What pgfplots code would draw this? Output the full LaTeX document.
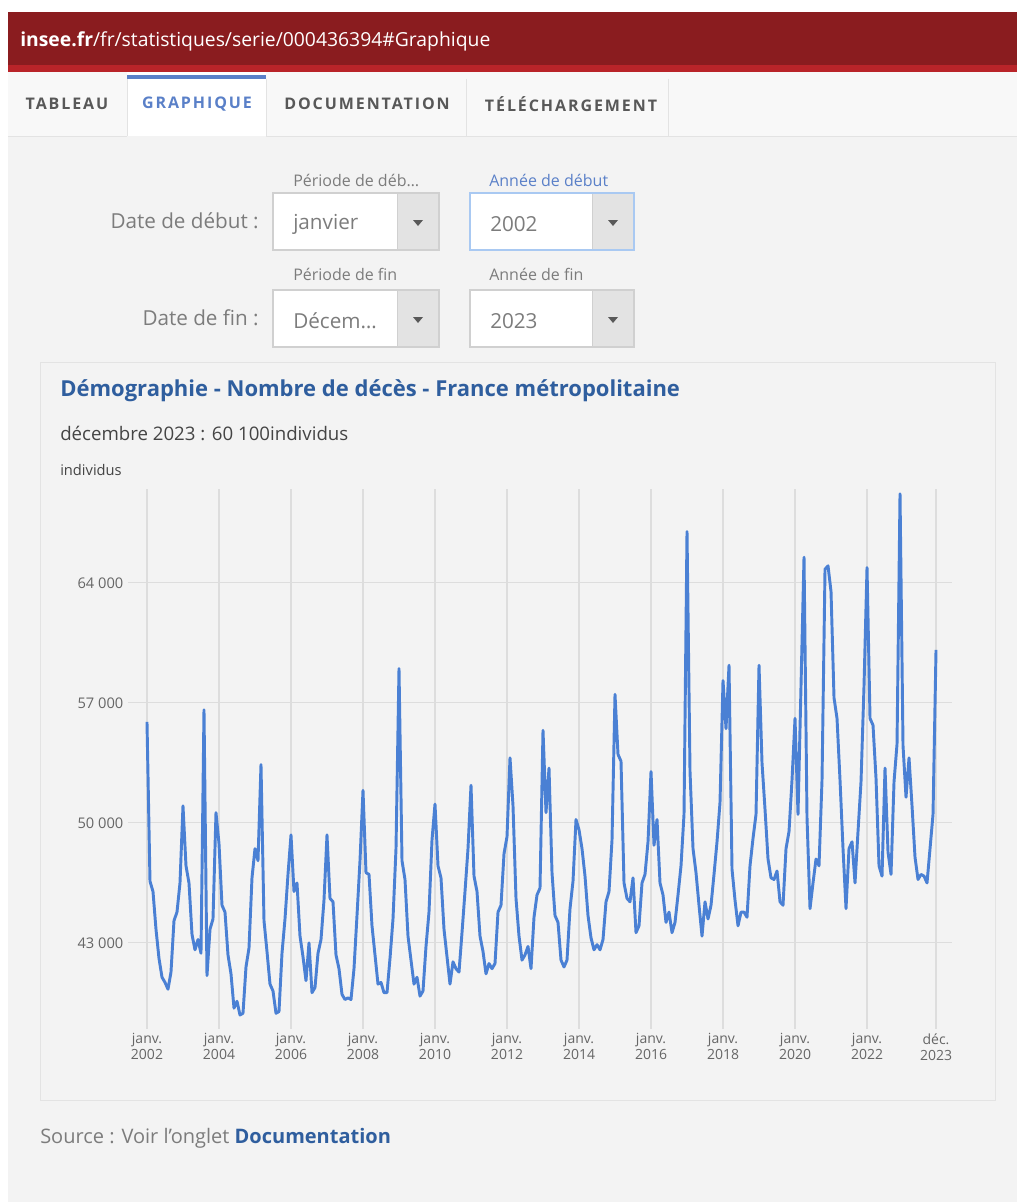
\documentclass[border=0pt]{standalone}
\usepackage{fontspec}
\setmainfont{Open Sans}
\usepackage{pgfplots}
\pgfplotsset{compat=1.18}

\definecolor{pagebg}{HTML}{F3F3F3}
\definecolor{barred}{HTML}{8A1C1F}
\definecolor{barline}{HTML}{B92429}
\definecolor{tabbg}{HTML}{F8F8F8}
\definecolor{tabline}{HTML}{E3E3E3}
\definecolor{tabtext}{HTML}{585858}
\definecolor{tabblue}{HTML}{5A80C8}
\definecolor{formgray}{HTML}{7C7C7C}
\definecolor{boxborder}{HTML}{D0D0D0}
\definecolor{btngray}{HTML}{E3E3E3}
\definecolor{focusblue}{HTML}{A9C9F2}
\definecolor{titleblue}{HTML}{2F5E9E}
\definecolor{textgray}{HTML}{444444}
\definecolor{labelgray}{HTML}{666666}
\definecolor{gridgray}{HTML}{DDDDDD}
\definecolor{serieblue}{HTML}{4A80D4}

% liste deroulante: x, y, largeur, couleur du bord, texte
\newcommand\selectbox[5]{%
  \fill[white] (#1,#2) rectangle ({#1+#3},{#2+57});
  \fill[btngray] ({#1+#3-42},#2) rectangle ({#1+#3},{#2+57});
  \draw[boxborder] ({#1+#3-42},#2) -- ({#1+#3-42},{#2+57});
  \draw[#4, line width=1.2pt] (#1,#2) rectangle ({#1+#3},{#2+57});
  \fill[black!65] ({#1+#3-26},{#2+27}) -- ({#1+#3-16},{#2+27}) -- ({#1+#3-21},{#2+33}) -- cycle;
  \node[anchor=west, inner sep=0pt, formgray, font=\fontsize{15.5}{18}\selectfont] at ({#1+20},{#2+31}) {#5};
}

\begin{document}
\begin{tikzpicture}[x=0.75pt,y=-0.75pt]
\useasboundingbox (0,0) rectangle (1017,1202);
\fill[white] (0,0) rectangle (1017,1202);
\fill[pagebg] (8,72) rectangle (1017,1202);

% barre d'adresse
\fill[barred] (8,12) rectangle (1017,66);
\fill[barline] (8,65) rectangle (1017,72);
\node[anchor=west, white, inner sep=0pt, font=\fontsize{14.5}{16}\selectfont] at (20,41)
  {\textbf{insee.fr}/fr/statistiques/serie/000436394\#Graphique};

% onglets
\fill[tabbg] (8,72) rectangle (1017,136);
\fill[white] (127,72) rectangle (266,136);
\fill[tabblue] (127,75) rectangle (266,79);
\foreach \xx in {127,266,466,668} \draw[tabline] (\xx,79) -- (\xx,136);
\draw[tabline] (8,136) -- (127,136) (266,136) -- (1017,136);
\begin{scope}[every node/.style={inner sep=0pt, font=\fontsize{12}{14}\bfseries\addfontfeatures{LetterSpace=12}\selectfont}]
\node[tabtext] at (67,104) {TABLEAU};
\node[tabblue] at (197,104) {GRAPHIQUE};
\node[tabtext] at (367,104) {DOCUMENTATION};
\node[tabtext] at (571,104) {TÉLÉCHARGEMENT};
\end{scope}

% formulaire
\begin{scope}[every node/.style={inner sep=0pt}]
\node[anchor=east, formgray, font=\fontsize{15.5}{18}\selectfont] at (259,221) {Date de début :};
\node[anchor=east, formgray, font=\fontsize{15.5}{18}\selectfont] at (259,318) {Date de fin :};
\node[anchor=west, formgray, font=\fontsize{12}{14}\selectfont] at (293,180) {Période de déb\ldots};
\node[anchor=west, tabblue, font=\fontsize{12}{14}\selectfont] at (489,180) {Année de début};
\node[anchor=west, formgray, font=\fontsize{12}{14}\selectfont] at (293,274) {Période de fin};
\node[anchor=west, formgray, font=\fontsize{12}{14}\selectfont] at (489,274) {Année de fin};
\end{scope}
\selectbox{273}{193}{166}{boxborder}{janvier}
\selectbox{470}{193}{164}{focusblue}{2002}
\selectbox{273}{290}{166}{boxborder}{Décem\ldots}
\selectbox{470}{290}{164}{boxborder}{2023}

% cadre du graphique
\draw[tabline, fill=pagebg] (40,362) rectangle (995,1100);
\node[anchor=west, inner sep=0pt, titleblue, font=\fontsize{16.5}{19}\bfseries\selectfont] at (60,391)
  {Démographie - Nombre de décès - France métropolitaine};
\node[anchor=west, inner sep=0pt, textgray, font=\fontsize{14}{16}\selectfont] at (60,433)
  {décembre 2023 : 60 100individus};
\node[anchor=west, inner sep=0pt, textgray, font=\fontsize{11}{13}\selectfont] at (60,470)
  {individus};

\begin{scope}[x=1cm,y=1cm]
\begin{axis}[
  at={(96pt,-771.5pt)}, anchor=south west,
  width=618pt, height=405pt, scale only axis,
  xmin=-6.33, xmax=268.33,
  ymin=38000, ymax=69500,
  axis line style={draw=none},
  tick style={draw=none}, major tick length=0pt,
  xmajorgrids, ymajorgrids,
  grid style={gridgray, line width=0.8pt},
  scaled y ticks=false,
  xtick={0,24,48,72,96,120,144,168,192,216,240,263},
  xticklabels={{janv.\\2002},{janv.\\2004},{janv.\\2006},{janv.\\2008},{janv.\\2010},{janv.\\2012},
    {janv.\\2014},{janv.\\2016},{janv.\\2018},{janv.\\2020},{janv.\\2022},{déc.\\2023}},
  xticklabel style={align=center, text=labelgray, font=\fontsize{10.5}{12}\selectfont},
  ytick={43000,50000,57000,64000},
  yticklabels={43 000,50 000,57 000,64 000},
  yticklabel style={text=labelgray, font=\fontsize{11}{13}\selectfont},
  /pgf/number format/assume math mode=true,
]
\addplot[serieblue, line width=2.2pt, line join=round] coordinates {
(0,55900) (1,46600) (2,46000) (3,43800) (4,42100) (5,41000) (6,40700) (7,40300) (8,41300) (9,44300) (10,44800) (11,46500)
(12,51000) (13,47500) (14,46500) (15,43500) (16,42600) (17,43200) (18,42400) (19,56600) (20,41100) (21,43800) (22,44400) (23,50600)
(24,48800) (25,45200) (26,44800) (27,42300) (28,41200) (29,39200) (30,39600) (31,38800) (32,38900) (33,41600) (34,42700) (35,46800)
(36,48500) (37,47800) (38,53400) (39,44300) (40,42500) (41,40600) (42,40200) (43,38900) (44,39000) (45,42400) (46,44400) (47,47000)
(48,49300) (49,46000) (50,46500) (51,43400) (52,42200) (53,40800) (54,43000) (55,40100) (56,40400) (57,42400) (58,43200) (59,45500)
(60,49300) (61,45600) (62,45400) (63,42300) (64,41500) (65,40000) (66,39700) (67,39800) (68,39700) (69,41500) (70,44600) (71,47800)
(72,51900) (73,47100) (74,47000) (75,44000) (76,42300) (77,40600) (78,40700) (79,40100) (80,40100) (81,42100) (82,44400) (83,48500)
(84,59000) (85,47800) (86,46700) (87,43400) (88,42000) (89,40600) (90,41000) (91,39900) (92,40200) (93,42800) (94,44800) (95,49000)
(96,51100) (97,47500) (98,46800) (99,43800) (100,42200) (101,40600) (102,41900) (103,41500) (104,41300) (105,43600) (106,46000) (107,48500)
(108,52200) (109,46900) (110,46000) (111,43400) (112,42500) (113,41200) (114,41800) (115,41500) (116,41800) (117,44800) (118,45200) (119,48200)
(120,49200) (121,53800) (122,51000) (123,45600) (124,43400) (125,42000) (126,42300) (127,42800) (128,41500) (129,44500) (130,45800) (131,46200)
(132,55400) (133,50600) (134,53200) (135,47100) (136,44600) (137,44200) (138,42000) (139,41600) (140,42000) (141,45000) (142,46600) (143,50200)
(144,49600) (145,48500) (146,46900) (147,44600) (148,43300) (149,42600) (150,42900) (151,42600) (152,43200) (153,45400) (154,46000) (155,49000)
(156,57500) (157,54000) (158,53600) (159,46500) (160,45600) (161,45400) (162,46800) (163,43600) (164,44000) (165,46500) (166,47000) (167,48900)
(168,53000) (169,48700) (170,50200) (171,46500) (172,45800) (173,44200) (174,44800) (175,43600) (176,44200) (177,45800) (178,47500) (179,50500)
(180,67000) (181,53000) (182,48500) (183,47100) (184,45200) (185,43400) (186,45400) (187,44400) (188,45200) (189,47000) (190,48900) (191,51200)
(192,58300) (193,55500) (194,59200) (195,47300) (196,45500) (197,44000) (198,44800) (199,44800) (200,44500) (201,47500) (202,49100) (203,50500)
(204,59200) (205,53500) (206,50800) (207,47900) (208,46800) (209,46700) (210,47200) (211,45400) (212,45200) (213,48500) (214,49500) (215,52500)
(216,56100) (217,50500) (218,58000) (219,65500) (220,50300) (221,45000) (222,46500) (223,47900) (224,47500) (225,52500) (226,64800) (227,65000)
(228,63500) (229,57300) (230,56100) (231,52500) (232,48500) (233,45000) (234,48500) (235,48900) (236,46500) (237,49500) (238,52400) (239,58000)
(240,64900) (241,56100) (242,55700) (243,52600) (244,47500) (245,46900) (246,53200) (247,48300) (248,47000) (249,52400) (250,54600) (251,69200)
(252,54500) (253,51500) (254,53800) (255,51000) (256,48000) (257,46700) (258,47000) (259,46900) (260,46500) (261,48500) (262,50500) (263,60100)
};
\end{axis}
\end{scope}

% source
\node[anchor=west, inner sep=0pt, formgray, font=\fontsize{15}{17}\selectfont] at (40,1138)
  {Source : Voir l'onglet \textcolor{titleblue}{\bfseries Documentation}};
\end{tikzpicture}
\end{document}
